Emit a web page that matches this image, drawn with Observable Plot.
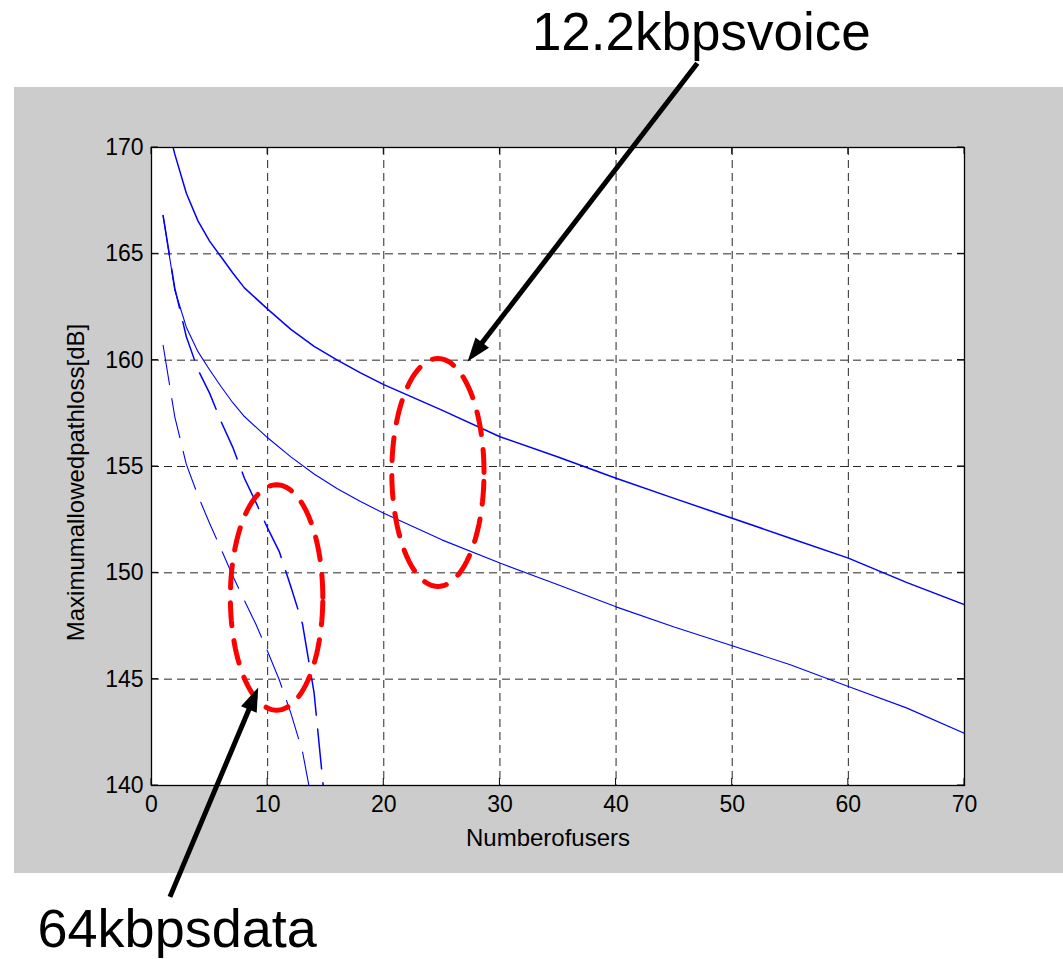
<!DOCTYPE html>
<html><head><meta charset="utf-8">
<script src="https://cdn.jsdelivr.net/npm/d3@7"></script>
<script src="https://cdn.jsdelivr.net/npm/@observablehq/plot@0.6"></script>
<style>
html,body{margin:0;padding:0;background:#fff;}
#wrap{position:relative;width:1063px;height:959px;overflow:hidden;}
#panel{position:absolute;left:14px;top:87px;width:1049px;height:786px;background:#cccccc;}
#chart{position:absolute;left:0;top:0;}
</style></head><body>
<div id="wrap"><div id="panel"></div><div id="chart"></div></div>
<script>
// ---- data ----
const xTicks = [0, 10, 20, 30, 40, 50, 60, 70];
const yTicks = [140, 145, 150, 155, 160, 165, 170];

const voiceUsers = [1,2,3,4,5,6,7,8,10,12,14,16,18,20,25,30,35,40,45,50,55,60,65,70];
const voiceHigh  = [171.9,169.7,167.85,166.55,165.6,164.85,164.1,163.4,162.4,161.45,160.65,160.0,159.4,158.85,157.65,156.4,155.45,154.45,153.5,152.57,151.63,150.69,149.55,148.5];
const voiceLow   = [166.8,163.3,161.55,160.4,159.55,158.75,158.0,157.35,156.35,155.45,154.65,153.95,153.35,152.8,151.55,150.46,149.44,148.4,147.45,146.57,145.68,144.66,143.65,142.45];

const dataUsersHigh = [1,2,3,4,5,6,7,8,9,10,11,12,13,14,15];
const dataHigh      = [166.8,163.4,161.1,159.55,158.45,157.1,155.9,154.45,153.3,152.1,151.0,149.35,147.6,144.35,138.8];
const dataUsersLow  = [1,2,3,4,5,6,7,8,9,10,11,12,13,14];
const dataLow       = [160.7,157.35,155.1,153.63,152.33,151.1,149.85,148.7,147.57,146.3,144.97,143.4,141.6,138.7];

// annotations (data coordinates)
const ellipses = [
  {name: "voice", cx: 24.66, cy: 154.72, rx: 3.97, ry: 5.36},
  {name: "data",  cx: 10.77, cy: 148.84, rx: 3.98, ry: 5.30}
];
const arrows = [
  {x1: 47.04, y1: 173.94, x2: 27.26, y2: 159.91},
  {x1: 1.63,  y1: 134.74, x2: 9.23,  y2: 144.59}
];
const labels = [
  {text: "12.2kbpsvoice", x: 47.34, y: 174.6, size: 53},
  {text: "64kbpsdata",    x: 2.21,  y: 132.4, size: 54}
];

const toRows = (xs, ys) => xs.map((x, i) => ({x, y: ys[i]}));
const ellipsePoints = e => d3.range(0, 360, 3).map(t => ({
  x: e.cx + e.rx * Math.cos(t * Math.PI / 180),
  y: e.cy + e.ry * Math.sin(t * Math.PI / 180)
}));

const inwardTicks = (index, {x, y}) => {
  const g = d3.create("svg:g").attr("stroke", "black").attr("stroke-width", 1);
  const X0 = x(0), X1 = x(70), Y0 = y(140), Y1 = y(170);
  for (const t of xTicks) {
    g.append("line").attr("x1", x(t)).attr("x2", x(t)).attr("y1", Y0).attr("y2", Y0 - 7);
    g.append("line").attr("x1", x(t)).attr("x2", x(t)).attr("y1", Y1).attr("y2", Y1 + 7);
  }
  for (const t of yTicks) {
    g.append("line").attr("y1", y(t)).attr("y2", y(t)).attr("x1", X0).attr("x2", X0 + 7);
    g.append("line").attr("y1", y(t)).attr("y2", y(t)).attr("x1", X1).attr("x2", X1 - 7);
  }
  return g.node();
};

const arrowMark = (index, {x, y}) => {
  const g = d3.create("svg:g");
  for (const a of arrows) {
    const ax = x(a.x1), ay = y(a.y1), bx = x(a.x2), by = y(a.y2);
    const ang = Math.atan2(by - ay, bx - ax);
    const L = 24, W = 8.5;
    const hx = bx - L * Math.cos(ang), hy = by - L * Math.sin(ang);
    const px = -Math.sin(ang) * W, py = Math.cos(ang) * W;
    g.append("line").attr("x1", ax).attr("y1", ay).attr("x2", hx + Math.cos(ang) * 2).attr("y2", hy + Math.sin(ang) * 2)
      .attr("stroke", "black").attr("stroke-width", 5);
    g.append("path").attr("d", `M${bx},${by}L${hx + px},${hy + py}L${hx - px},${hy - py}Z`).attr("fill", "black");
  }
  return g.node();
};

const blue = "#0000ff";
const plot = Plot.plot({
  width: 1063, height: 959,
  marginLeft: 151, marginRight: 99, marginTop: 147, marginBottom: 174,
  style: {background: "transparent", fontFamily: "'Liberation Sans', Arial, sans-serif", fontSize: "23px", color: "black"},
  x: {domain: [0, 70]},
  y: {domain: [140, 170]},
  marks: [
    Plot.frame({fill: "white", stroke: null}),
    Plot.ruleX(xTicks.slice(1, -1), {stroke: "black", strokeOpacity: 0.85, strokeDasharray: "8,5"}),
    Plot.ruleY(yTicks.slice(1, -1), {stroke: "black", strokeOpacity: 0.85, strokeDasharray: "8,5"}),
    Plot.line(toRows(voiceUsers, voiceHigh), {x: "x", y: "y", stroke: blue, strokeWidth: 1.5, clip: true}),
    Plot.line(toRows(voiceUsers, voiceLow), {x: "x", y: "y", stroke: blue, strokeWidth: 1.1, clip: true}),
    Plot.line(toRows(dataUsersHigh, dataHigh), {x: "x", y: "y", stroke: blue, strokeWidth: 1.5, strokeDasharray: "40,14", clip: true}),
    Plot.line(toRows(dataUsersLow, dataLow), {x: "x", y: "y", stroke: blue, strokeWidth: 1.1, strokeDasharray: "40,14", clip: true}),
    ...ellipses.map(e => Plot.line(ellipsePoints(e), {x: "x", y: "y", curve: "linear-closed", stroke: "#ff0000", strokeWidth: 5, strokeDasharray: "23,15"})),
    inwardTicks,
    Plot.frame({stroke: "black", strokeWidth: 1.3}),
    Plot.axisX(xTicks, {anchor: "bottom", tickSize: 0, tickPadding: 10, label: null, fontSize: 23}),
    Plot.axisY(yTicks, {anchor: "left", tickSize: 0, tickPadding: 8, label: null, fontSize: 23}),
    Plot.text(["Numberofusers"], {frameAnchor: "bottom", textAnchor: "middle", dx: -10, dy: 60, lineAnchor: "bottom", fontSize: 24, fill: "black"}),
    Plot.text(["Maximumallowedpathloss[dB]"], {frameAnchor: "left", textAnchor: "middle", rotate: -90, dx: -68, dy: 16, lineAnchor: "bottom", fontSize: 24, fill: "black"}),
    arrowMark,
    Plot.text(labels, {x: "x", y: "y", text: "text", fontSize: d => d.size, lineAnchor: "bottom", textAnchor: "middle", fill: "black"})
  ]
});
document.getElementById("chart").appendChild(plot);
</script>
</body></html>
